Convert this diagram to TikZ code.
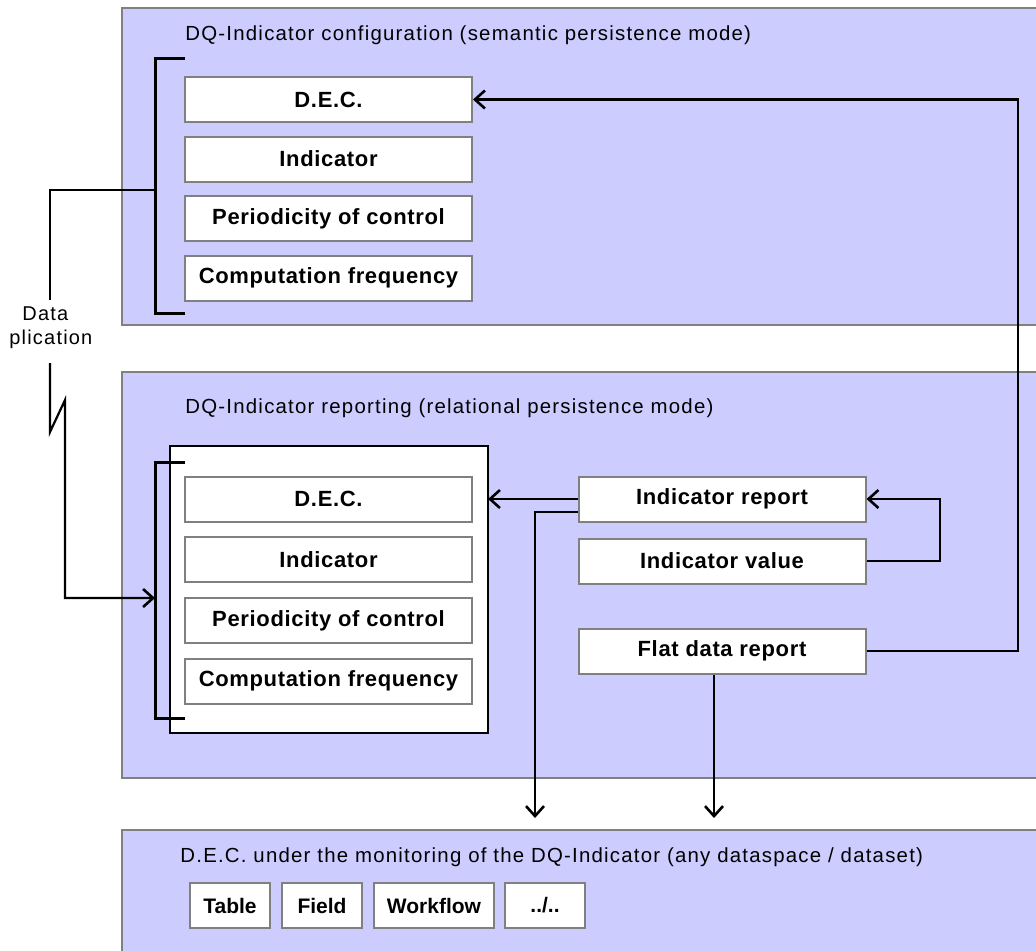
\documentclass[tikz,border=0pt]{standalone}
\usepackage{fontspec}
\setmainfont{Liberation Sans}
\newfontfamily\titlefont[LetterSpace=6]{Liberation Sans}
\newfontfamily\fieldfont[LetterSpace=3]{Liberation Sans}
\usetikzlibrary{arrows.meta}

\begin{document}
\begin{tikzpicture}[x=0.5pt, y=-0.5pt,
    panel/.style={fill=panelColour, draw=gray, line width=1pt},
    field/.style={draw=gray, fill=white, line width=1pt, inner sep=0pt,
        minimum width=143.5pt, minimum height=22.5pt,
        font=\fieldfont\bfseries\fontsize{11}{13}\selectfont},
    tag/.style={field, minimum width=40pt, font=\bfseries\fontsize{10.5}{13}\selectfont},
    title/.style={anchor=west, inner sep=0pt, font=\titlefont\fontsize{10.2}{12}\selectfont},
    brace/.style={line width=1.5pt},
    link/.style={line width=1.1pt, -{Straight Barb[length=5pt,width=9pt,line width=1.3pt]}},
    plain/.style={line width=1.1pt}]
    % Define colours
    \definecolor{panelColour}{HTML}{CCCCFF}

    % Fix the page size
    \useasboundingbox (0,0) rectangle (1036,950);

    % Draw the three panels
    \draw[panel] (122,8) rectangle (1050,325);
    \draw[panel] (122,372) rectangle (1050,778);
    \draw[panel] (122,830) rectangle (1050,970);

    % Panel titles
    \node[title] (confTitle) at (185,35) {DQ-Indicator configuration (semantic persistence mode)};
    \node[title] (repTitle) at (185,408) {DQ-Indicator reporting (relational persistence mode)};
    \node[title] (decTitle) at (180,857) {D.E.C. under the monitoring of the DQ-Indicator (any dataspace / dataset)};

    % Configuration fields
    \foreach \txt [count=\i] in {D.E.C., Indicator, Periodicity of control, Computation frequency}
        \node[field] (conf\i) at (328.5,{99.5+59.5*(\i-1)}) {\txt};
    \draw[brace] (185,58) -- (155,58) -- (155,313) -- (185,313);
    \coordinate (confBrace) at (155,190);

    % Reporting copy of the fields
    \draw[fill=white, draw=black, line width=1pt] (170,446) rectangle (488,733);
    \coordinate (repEdge) at (488,499);
    \foreach \txt [count=\i] in {D.E.C., Indicator, Periodicity of control, Computation frequency}
        \node[field] (rep\i) at (328.5,{499+60.7*(\i-1)}) {\txt};
    \draw[brace] (185,462) -- (155,462) -- (155,718) -- (185,718);
    \coordinate (repBrace) at (155,598);

    % Reports
    \node[field] (report) at (722,499) {Indicator report};
    \node[field] (value) at (722,561) {Indicator value};
    \node[field] (flat) at (722,651) {Flat data report};

    % Monitored elements
    \node[tag] (table) at (230,905.5) {Table};
    \node[tag] (field) at (322,905.5) {Field};
    \node[tag, minimum width=60pt] (workflow) at (434,905.5) {Workflow};
    \node[tag] (etc) at (545,905.5) {../..};

    % Data duplication
    \node[align=left, anchor=west, inner sep=0pt, font=\titlefont\fontsize{10}{12}\selectfont] (dup) at (9,328) {\hspace*{6.5pt}Data\\plication};
    \draw[plain] (confBrace) -- (50,190) -- (50,300);
    \draw[link] (50,363) -- (50,432) -- (65,400) -- (65,598) -- (repBrace);

    % Connectors
    \coordinate (decIn) at (535,818);
    \coordinate (flatIn) at (714,818);
    \draw[link] (report.west) -- (repEdge);
    \draw[link] ([yshift=-6.5pt]report.west) -| (decIn);
    \draw[link] (value.east) -- (940,561) |- (report.east);
    \draw[link] (flat.east) -- (1018,651) |- (conf1.east);
    \draw[link] (flat.south -| flatIn) -- (flatIn);

\end{tikzpicture}
\end{document}
